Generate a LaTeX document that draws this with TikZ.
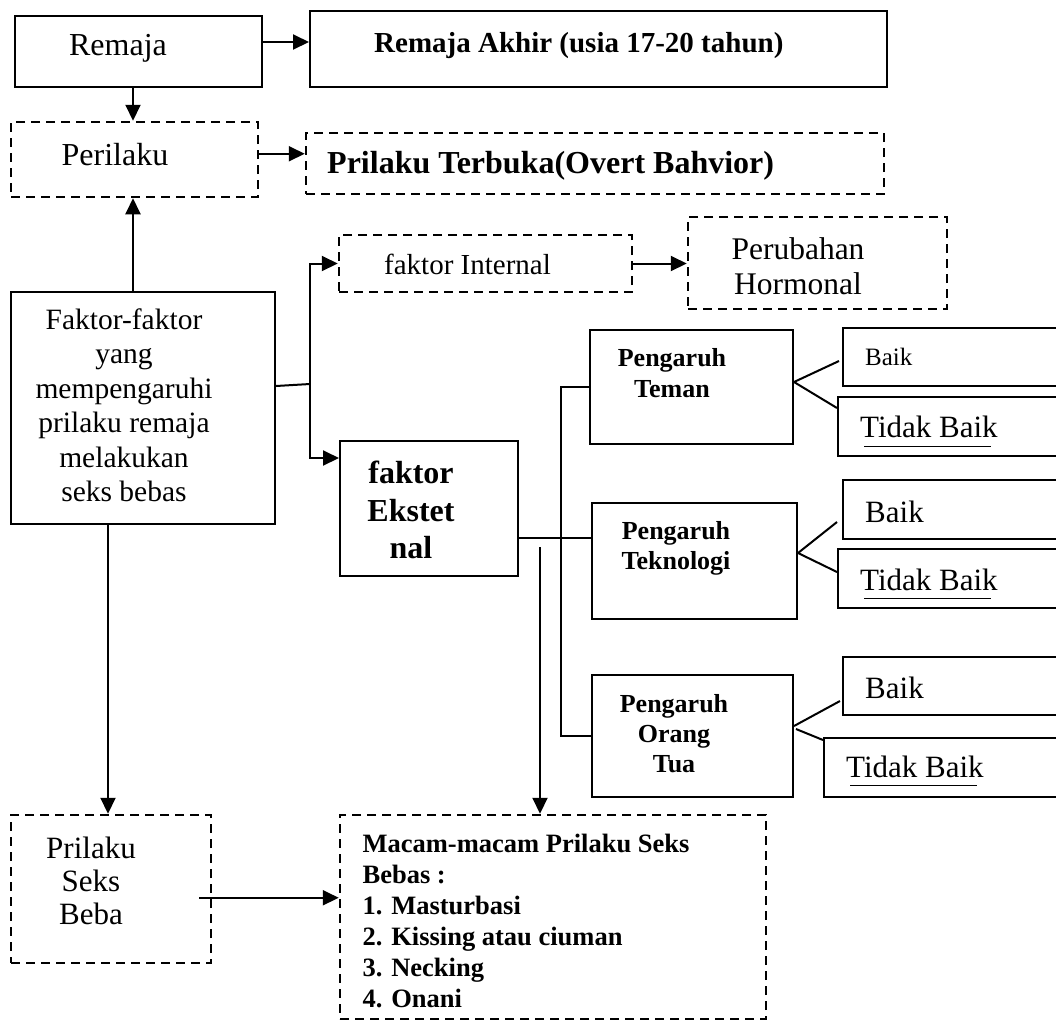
\documentclass[tikz,border=0pt]{standalone}
\usepackage{fontspec}
\setmainfont{Liberation Serif}
\usetikzlibrary{arrows.meta,calc}
\newcommand\myfs[2]{\fontsize{#1}{#2}\selectfont}
\tikzset{
  box/.style={draw, line width=2pt, rectangle, inner sep=0pt},
  dbox/.style={box, dash pattern=on 9pt off 6pt, line width=2.5pt},
  txt/.style={inner sep=0pt},
  arr/.style={line width=2pt, -{Triangle[length=16pt,width=15pt]}},
  ln/.style={line width=2pt},
}
\begin{document}
\begin{tikzpicture}[x=1pt,y=-1pt]
\useasboundingbox (0,0) rectangle (1056,1021);
\clip (0,0) rectangle (1056,1021);
% boxes
\node[box, minimum width=247pt, minimum height=71pt] (remaja) at (138.5,51.5) {};
\node[box, minimum width=577pt, minimum height=76pt] (akhir) at (598.5,49) {};
\node[dbox, minimum width=247pt, minimum height=75pt] (perilaku) at (134.5,159.5) {};
\node[dbox, minimum width=578pt, minimum height=61pt] (terbuka) at (595,163.5) {};
\node[box, minimum width=264pt, minimum height=232pt] (faktor) at (143,408) {};
\node[dbox, minimum width=293pt, minimum height=57pt] (internal) at (485.5,263.5) {};
\node[dbox, minimum width=259pt, minimum height=92pt] (perubahan) at (817.5,263) {};
\node[box, minimum width=178pt, minimum height=135pt] (ekstern) at (429,508.5) {};
\node[box, minimum width=203pt, minimum height=114pt] (teman) at (691.5,387) {};
\node[box, minimum width=205pt, minimum height=116pt] (teknologi) at (694.5,561) {};
\node[box, minimum width=201pt, minimum height=122pt] (orangtua) at (692.5,736) {};
\node[box, minimum width=227pt, minimum height=58pt] (baikA) at (956.5,357) {};
\node[box, minimum width=232pt, minimum height=59pt] (tbA) at (954,426.5) {};
\node[box, minimum width=227pt, minimum height=59pt] (baikB) at (956.5,509.5) {};
\node[box, minimum width=232pt, minimum height=59pt] (tbB) at (954,578.5) {};
\node[box, minimum width=227pt, minimum height=58pt] (baikC) at (956.5,686) {};
\node[box, minimum width=246pt, minimum height=59pt] (tbC) at (947,767.5) {};
\node[dbox, minimum width=200pt, minimum height=148pt] (seksbeba) at (111,889) {};
\node[dbox, minimum width=426pt, minimum height=204pt] (macam) at (553,917) {};
% texts
\node[txt, anchor=base, font=\myfs{32}{38}] (t-remaja) at (118,55.5) {Remaja};
\node[txt, anchor=base west, font=\myfs{29}{34}\bfseries] (t-akhir) at (374,52.6) {Remaja Akhir (usia 17-20 tahun)};
\node[txt, anchor=base, font=\myfs{32}{38}] (t-perilaku) at (115,165.5) {Perilaku};
\node[txt, anchor=base west, font=\myfs{32}{38}\bfseries] (t-terbuka) at (327,173.5) {Prilaku Terbuka(Overt Bahvior)};
\node[txt, align=center, font=\myfs{29.5}{34.5}] (t-faktor) at (124,405) {Faktor-faktor\\yang\\mempengaruhi\\prilaku remaja\\melakukan\\seks bebas};
\node[txt, anchor=base west, font=\myfs{29}{34}] (t-internal) at (384,274.6) {faktor Internal};
\node[txt, align=center, font=\myfs{31.5}{35}] (t-perubahan) at (798,266) {Perubahan\\Hormonal};
\node[txt, align=center, font=\myfs{32}{37.5}\bfseries] (t-ekstern) at (411,510) {faktor\\Ekstet\\nal};
\node[txt, align=center, font=\myfs{26}{31}\bfseries] (t-teman) at (672,373) {Pengaruh\\Teman};
\node[txt, align=center, font=\myfs{26}{30}\bfseries] (t-teknologi) at (676,548) {Pengaruh\\Teknologi};
\node[txt, align=center, font=\myfs{26}{30}\bfseries] (t-orangtua) at (674,734) {Pengaruh\\Orang\\Tua};
\node[txt, anchor=base west, font=\myfs{25}{30}] (t-baikA) at (865,365) {Baik};
\node[txt, anchor=base west, font=\myfs{31}{36}] (t-tbA) at (860,437) {Tidak Baik};
\node[txt, anchor=base west, font=\myfs{31}{36}] (t-baikB) at (865,522) {Baik};
\node[txt, anchor=base west, font=\myfs{31}{36}] (t-tbB) at (860,590) {Tidak Baik};
\node[txt, anchor=base west, font=\myfs{31}{36}] (t-baikC) at (865,698) {Baik};
\node[txt, anchor=base west, font=\myfs{31}{36}] (t-tbC) at (846,777) {Tidak Baik};
\node[txt, align=center, font=\myfs{31}{33}] (t-seksbeba) at (91,881) {Prilaku\\Seks\\Beba};
\node[txt, align=left, font=\myfs{26.5}{31}\bfseries] (t-macam) at (526,921) {Macam-macam Prilaku Seks\\Bebas :\\1. Masturbasi\\2. Kissing atau ciuman\\3. Necking\\4. Onani};
% underlines
\draw[line width=1pt] ([xshift=4pt,yshift=-9pt]t-tbA.base west) -- ++(127,0);
\draw[line width=1pt] ([xshift=4pt,yshift=-8pt]t-tbB.base west) -- ++(127,0);
\draw[line width=1pt] ([xshift=4pt,yshift=-8pt]t-tbC.base west) -- ++(127,0);
% connectors
\draw[arr] ([yshift=-27pt]remaja.north east) -- ([yshift=-32pt]akhir.north west);
\draw[arr] ([xshift=-5.5pt]remaja.south) -- ([xshift=-1.5pt]perilaku.north);
\draw[arr] ([yshift=-33pt]perilaku.north east) -- ([yshift=-22pt]terbuka.north west);
\draw[arr] ([xshift=-10pt]faktor.north) -- ([xshift=-1.5pt]perilaku.south);
\coordinate (j1) at (310,384);
\draw[ln] ([yshift=-95pt]faktor.north east) -- (j1);
\draw[arr] (j1) |- (internal.west);
\draw[arr] (j1) |- ([yshift=-18pt]ekstern.north west);
\draw[arr] (internal.east) -- (internal.east -| perubahan.west);
\draw[ln] ([yshift=-98pt]ekstern.north east) -- ([yshift=-36pt]teknologi.north west);
\draw[ln] (teman.west) -- ++(-28,0) |- (orangtua.west);
\coordinate (a0) at (540,547);
\draw[arr] (a0) -- (a0 |- macam.north);
\draw[arr] ([xshift=-35pt]faktor.south) -- ([xshift=-3pt]seksbeba.north);
\draw[arr] ([xshift=-13pt,yshift=-84pt]seksbeba.north east) -- ([yshift=-84pt]macam.north west);
% forks
\draw[ln] ([yshift=-53pt]teman.north east) -- ([xshift=-3pt,yshift=-34pt]baikA.north west);
\draw[ln] ([yshift=-53pt]teman.north east) -- ([yshift=-12pt]tbA.north west);
\draw[ln] ([yshift=-51pt]teknologi.north east) -- ([xshift=-5pt,yshift=-43pt]baikB.north west);
\draw[ln] ([yshift=-51pt]teknologi.north east) -- ([yshift=-24pt]tbB.north west);
\draw[ln] ([yshift=-52pt]orangtua.north east) -- ([xshift=-2pt,yshift=-45pt]baikC.north west);
\draw[ln] ([xshift=2pt,yshift=-55pt]orangtua.north east) -- ([yshift=-3pt]tbC.north west);
\end{tikzpicture}
\end{document}
